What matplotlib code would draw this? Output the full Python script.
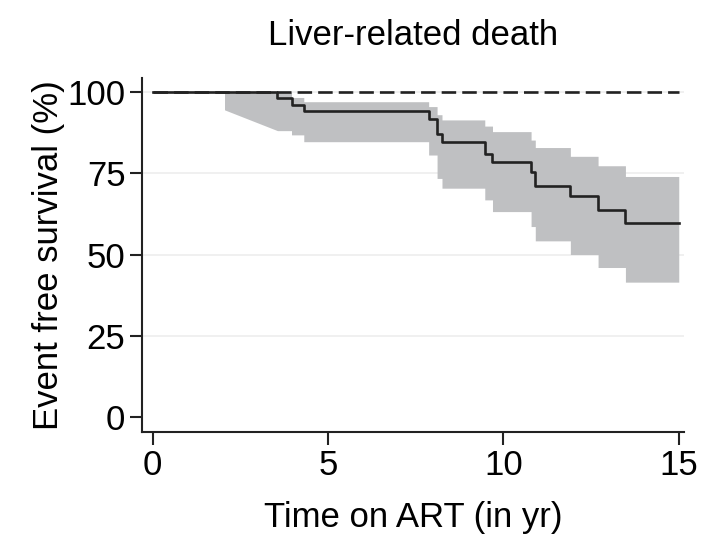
import matplotlib
matplotlib.use("Agg")
import matplotlib.pyplot as plt

# Kaplan-Meier estimate (step after each event time), in %
km_time = [0, 3.56, 3.96, 4.31, 7.87, 8.11, 8.25, 9.47, 9.69, 10.79, 10.91, 11.91, 12.70, 13.48, 15.0]
km_surv = [100, 98.1, 96.0, 94.1, 91.6, 87.0, 84.5, 80.9, 78.5, 75.4, 71.2, 67.9, 63.7, 59.8, 59.8]

# 95% CI band
ci_time = [2.05, 3.56, 3.96, 4.31, 7.87, 8.11, 8.25, 9.47, 9.69, 10.79, 10.91, 11.91, 12.70, 13.48, 15.0]
ci_low = [94.5, 88.1, 86.8, 84.7, 80.6, 73.4, 70.4, 66.8, 63.2, 58.6, 54.2, 50.0, 46.0, 41.5, 41.5]
ci_high = [100, 100, 98.3, 97.0, 95.5, 93.0, 91.4, 89.5, 87.8, 85.2, 82.9, 80.2, 77.3, 74.0, 74.0]

# reference line (no events)
ref_time = [0, 15]
ref_surv = [100, 100]

x_ticks = [0, 5, 10, 15]
y_ticks = [0, 25, 50, 75, 100]

plt.rcParams['font.family'] = ['Liberation Sans', 'DejaVu Sans']

fig = plt.figure(figsize=(7.14, 5.43), dpi=100)
ax = fig.add_axes([0.199, 0.2044, 0.759, 0.652])

# band: first piece joined straight, then steps
bx = [ci_time[0], ci_time[1]]
blo = [ci_low[0], ci_low[1]]
bhi = [ci_high[0], ci_high[1]]
for i in range(2, len(ci_time)):
    bx += [ci_time[i], ci_time[i]]
    blo += [ci_low[i - 1], ci_low[i]]
    bhi += [ci_high[i - 1], ci_high[i]]
ax.fill_between(bx, blo, bhi, color='#bfc0c2', lw=0, zorder=2)

for y in [25, 50, 75, 100]:
    ax.axhline(y, color='#eeeeee', lw=1.2, zorder=1)

ax.plot(ref_time, ref_surv, color='#222222', lw=1.9, dashes=(5.5, 2.3), zorder=3)
ax.step(km_time, km_surv, where='post', color='#222222', lw=1.9, zorder=4)

ax.set_xlim(-0.3, 15.15)
ax.set_ylim(-4.6, 104.3)
ax.set_xticks(x_ticks)
ax.set_yticks(y_ticks)
ax.tick_params(labelsize=25, length=9, width=1.5, color='#222222', pad=3)
for s in ['top', 'right']:
    ax.spines[s].set_visible(False)
for s in ['left', 'bottom']:
    ax.spines[s].set_linewidth(1.5)
    ax.spines[s].set_color('#222222')

ax.set_title('Liver-related death', fontsize=25, pad=24)
ax.set_xlabel('Time on ART (in yr)', fontsize=25, labelpad=14)
ax.set_ylabel('Event free survival (%)', fontsize=25, labelpad=2)

fig.savefig('out.png', dpi=100)
